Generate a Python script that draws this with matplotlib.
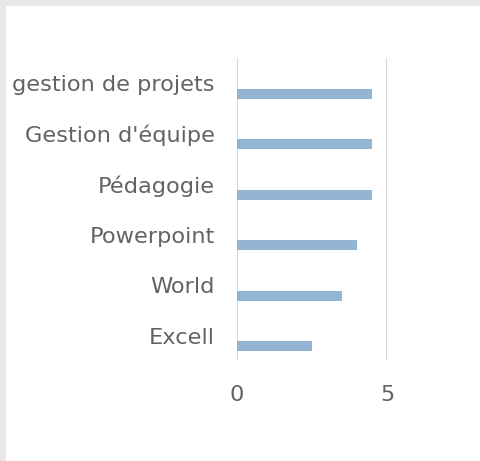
import matplotlib
matplotlib.use("Agg")
import matplotlib.pyplot as plt
from matplotlib.patches import Rectangle

categories = ["Excell", "World", "Powerpoint", "Pédagogie", "Gestion d'équipe", "gestion de projets"]
values = [2.5, 3.5, 4.0, 4.5, 4.5, 4.5]
xticks = [0, 5]

W, H = 481, 461
fig = plt.figure(figsize=(W / 100, H / 100), dpi=100)
fig.patch.set_facecolor("white")
# outer frame (top and left edges only visible)
fig.patches.append(Rectangle((0, 0), 6 / W, 1, transform=fig.transFigure,
                             facecolor="#e8e6e8", edgecolor="none", zorder=0))
fig.patches.append(Rectangle((0, 1 - 6 / H), 1, 6 / H, transform=fig.transFigure,
                             facecolor="#e8e6e8", edgecolor="none", zorder=0))

ax = fig.add_axes([237 / W, 100 / H, 150 / W, 303 / H])
ypos = list(range(len(categories)))
ax.barh([y - 0.21 for y in ypos], values, height=0.2, color="#93b4d2", zorder=3)
ax.set_xlim(0, 5)
ax.set_ylim(-0.5, len(categories) - 0.5)
ax.set_yticks(ypos)
ax.set_yticklabels(categories)
ax.set_xticks(xticks)
ax.set_xticklabels([str(t) for t in xticks])
for s in ax.spines.values():
    s.set_visible(False)
for x in xticks:
    ax.axvline(x, color="#d9d9d9", linewidth=1.5, zorder=1)
ax.tick_params(axis="both", length=0, labelsize=16.2, colors="#636363")
ax.tick_params(axis="y", pad=16)
ax.tick_params(axis="x", pad=17)
for lab in ax.get_xticklabels() + ax.get_yticklabels():
    lab.set_family("DejaVu Sans")
    lab.set_color("#636363")

fig.savefig("out.png", dpi=100)
